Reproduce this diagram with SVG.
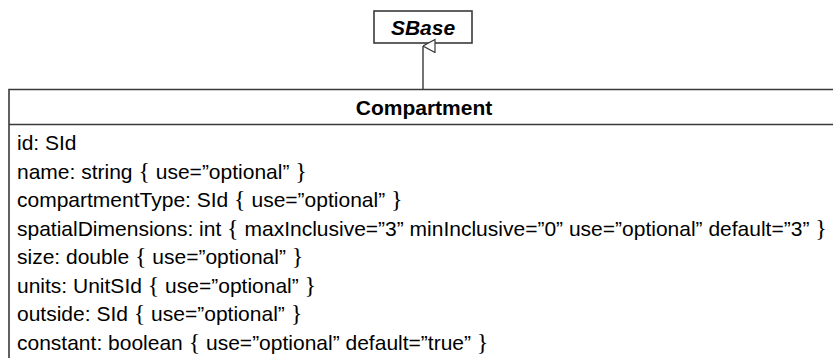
<svg xmlns="http://www.w3.org/2000/svg" width="833" height="358" viewBox="0 0 833 358">
<style>
.box{fill:#fff;stroke:#3a3a3a;stroke-width:1.6}
.t{font-family:"Liberation Sans",Arial,sans-serif;font-size:21px;fill:#000}
.b{font-weight:bold}
.br{font-family:"Liberation Serif","Times New Roman",serif;font-size:24px}
.conn{stroke:#3a3a3a;stroke-width:1.4;fill:none}
</style>
<defs>
<marker id="gen" markerWidth="16" markerHeight="14" refX="7" refY="0.5" orient="auto" markerUnits="userSpaceOnUse" viewBox="0 0 16 14">
<path d="M0.5,12.5 L7,0.5 L13.5,12.5 Z" fill="#fff" stroke="#3a3a3a" stroke-width="1.2"/>
</marker>
</defs>
<g id="SBase">
<rect class="box" x="374" y="11" width="98" height="32"/>
<text class="t b" x="423" y="35" text-anchor="middle" font-style="italic">SBase</text>
</g>
<g id="Compartment">
<path class="box" d="M9,370 L9,89.5 L840,89.5 M9,124.5 L840,124.5"/>
<text class="t b" x="424" y="115" text-anchor="middle">Compartment</text>
<text class="t" x="17" y="150">id: SId</text>
<text class="t" x="17" y="178.5">name: string <tspan class="br">{</tspan> use=”optional” <tspan class="br">}</tspan></text>
<text class="t" x="17" y="207">compartmentType: SId <tspan class="br">{</tspan> use=”optional” <tspan class="br">}</tspan></text>
<text class="t" x="17" y="235.5">spatialDimensions: int <tspan class="br">{</tspan> maxInclusive=”3” minInclusive=”0” use=”optional” default=”3” <tspan class="br">}</tspan></text>
<text class="t" x="17" y="264">size: double <tspan class="br">{</tspan> use=”optional” <tspan class="br">}</tspan></text>
<text class="t" x="17" y="292.5">units: UnitSId <tspan class="br">{</tspan> use=”optional” <tspan class="br">}</tspan></text>
<text class="t" x="17" y="321">outside: SId <tspan class="br">{</tspan> use=”optional” <tspan class="br">}</tspan></text>
<text class="t" x="17" y="349.5">constant: boolean <tspan class="br">{</tspan> use=”optional” default=”true” <tspan class="br">}</tspan></text>
</g>
<g id="connectors">
<path class="conn" d="M423,89.5 L423,46" marker-end="url(#gen)"/>
</g>
</svg>
